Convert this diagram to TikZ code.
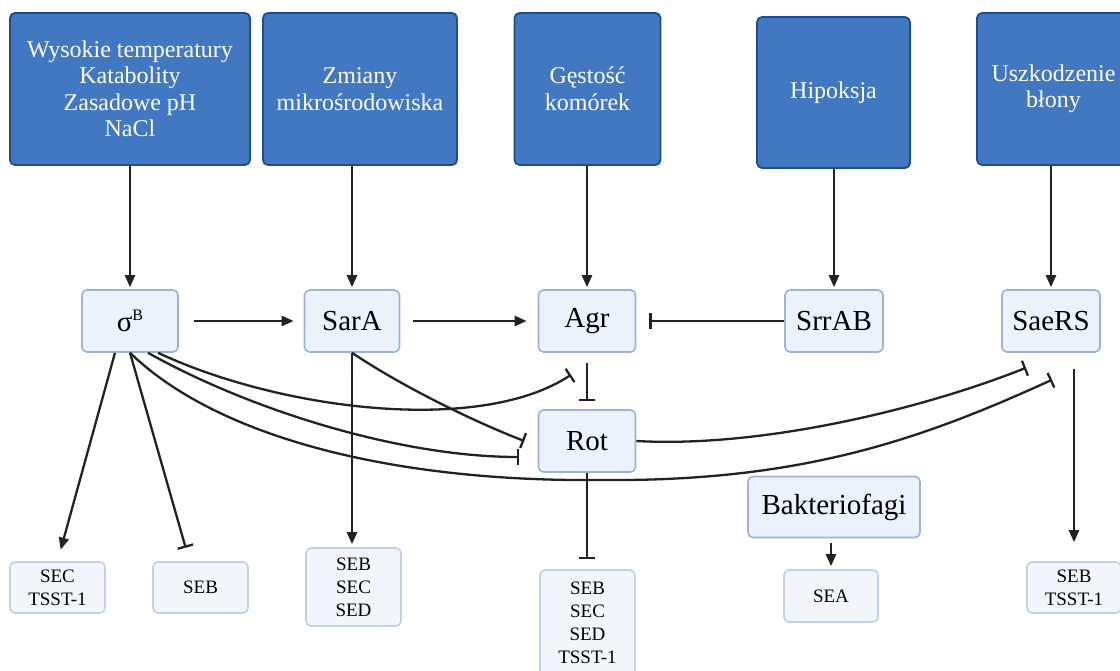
\documentclass[tikz,border=0pt]{standalone}
\usepackage{fontspec}
\setmainfont{Liberation Serif}
\usetikzlibrary{arrows.meta}
\definecolor{topfill}{HTML}{4178C1}
\definecolor{topborder}{HTML}{1E4C8C}
\definecolor{midfill}{HTML}{EBF2FC}
\definecolor{midborder}{HTML}{9BB3DC}
\definecolor{lowfill}{HTML}{F2F6FB}
\definecolor{lowborder}{HTML}{C2D1E5}
\definecolor{ink}{HTML}{222222}
\begin{document}
\begin{tikzpicture}[x=1pt,y=-1pt,
  topbox/.style={draw=topborder, fill=topfill, line width=1.8pt, rounded corners=5pt, text=white, align=center, inner sep=0pt, font=\fontsize{24}{26.5}\selectfont},
  midbox/.style={draw=midborder, fill=midfill, line width=1.6pt, rounded corners=5pt, text=black, inner sep=0pt, font=\fontsize{29}{31}\selectfont},
  lowbox/.style={draw=lowborder, fill=lowfill, line width=1.6pt, rounded corners=5pt, text=black, align=center, inner sep=0pt, font=\fontsize{19}{23}\selectfont},
  arr/.style={draw=ink, line width=2.3pt, -{Triangle[length=12pt,width=10pt]}},
  inh/.style={draw=ink, line width=2.3pt, -{Bar[width=16pt]}}
]
\useasboundingbox (0,0) rectangle (1120,671);
\clip (0,0) rectangle (1120,671);
\fill[white] (0,0) rectangle (1120,671);

% top boxes
\node[topbox, minimum width=240pt, minimum height=152pt] (t1) at (130,89) {Wysokie temperatury\\Katabolity\\Zasadowe pH\\NaCl};
\node[topbox, minimum width=194pt, minimum height=152pt] (t2) at (360,89) {Zmiany\\mikrośrodowiska};
\node[topbox, minimum width=146pt, minimum height=152pt] (t3) at (587.5,89) {Gęstość\\komórek};
\node[topbox, minimum width=153pt, minimum height=151pt] (t4) at (833.5,92.5) {Hipoksja};
\node[topbox, minimum width=153pt, minimum height=152pt] (t5) at (1053.5,89) {Uszkodzenie\\błony};

% middle boxes
\node[midbox, minimum width=96pt, minimum height=62pt] (sig) at (130,321) {σ\raisebox{11pt}{\fontsize{16}{16}\selectfont B}};
\node[midbox, minimum width=95pt, minimum height=62pt] (sara) at (352,321) {SarA};
\node[midbox, minimum width=97pt, minimum height=62pt] (agr) at (587,321) {Agr};
\node[midbox, minimum width=98pt, minimum height=62pt] (srr) at (834,321) {SrrAB};
\node[midbox, minimum width=98pt, minimum height=62pt] (sae) at (1051,321) {SaeRS};
\node[midbox, minimum width=97pt, minimum height=62pt] (rot) at (587,441) {Rot};
\node[midbox, minimum width=172pt, minimum height=61pt] (bak) at (834,507) {Bakteriofagi};

% bottom boxes
\node[lowbox, minimum width=95pt, minimum height=51pt] (b1) at (57.5,587.5) {SEC\\TSST-1};
\node[lowbox, minimum width=95pt, minimum height=51pt] (b2) at (200.5,587.5) {SEB};
\node[lowbox, minimum width=95pt, minimum height=78pt] (b3) at (353.5,587) {SEB\\SEC\\SED};
\node[lowbox, minimum width=95pt, minimum height=105pt] (b4) at (587.5,622.5) {SEB\\SEC\\SED\\TSST-1};
\node[lowbox, minimum width=94pt, minimum height=52pt] (sea) at (831,596) {SEA};
\node[lowbox, minimum width=94pt, minimum height=51pt] (b6) at (1074,587.5) {SEB\\TSST-1};

% top to middle
\draw[arr, shorten >=2pt] (t1.south) -- (sig.north);
\draw[arr, shorten >=2pt] (t2.south -| sara.north) -- (sara.north);
\draw[arr, shorten >=2pt] (t3.south -| agr.north) -- (agr.north);
\draw[arr, shorten >=2pt] (t4.south -| srr.north) -- (srr.north);
\draw[arr, shorten >=2pt] (t5.south -| sae.north) -- (sae.north);

% middle row
\draw[arr, shorten <=15pt, shorten >=10pt] (sig.east) -- (sara.west);
\draw[arr, shorten <=13pt, shorten >=11pt] (sara.east) -- (agr.west);
\draw[inh, shorten >=13pt] (srr.west) -- (agr.east);
\draw[inh, shorten <=10pt, shorten >=8pt] (agr.south) -- (rot.north);

% sigma B connectors
\draw[arr, shorten >=12pt] ([xshift=-15pt]sig.south) -- (b1.north);
\draw[inh, shorten >=14pt] (sig.south) -- ([xshift=-11pt]b2.north);
\draw[inh] ([xshift=28pt]sig.south) .. controls (280,410) and (480,435) .. ([xshift=-16pt,yshift=-22pt]agr.south);
\draw[inh] ([xshift=18pt]sig.south) .. controls (250,410) and (400,457) .. ([xshift=-18.5pt,yshift=-16pt]rot.west);
\draw[inh] (sig.south) .. controls (220,440) and (400,482) .. (600,480)
  .. controls (800,482) and (920,440) .. ([xshift=1pt,yshift=-27pt]sae.south);

% SarA connectors
\draw[arr, shorten >=3pt] (sara.south) -- (sara.south |- b3.north);
\draw[inh] (sara.south) .. controls (400,385) and (470,420) .. ([xshift=-13.5pt]rot.west);

% Rot connectors
\draw[inh, shorten >=10pt] (rot.south) -- (rot.south |- b4.north);
\draw[inh] (rot.east) .. controls (760,448) and (920,410) .. ([xshift=-25pt,yshift=-15pt]sae.south);

% Bakteriofagi and SaeRS
\draw[arr, shorten <=5pt, shorten >=3pt] (sea.north |- bak.south) -- (sea.north);
\draw[arr, shorten <=16pt, shorten >=19pt] (b6.north |- sae.south) -- (b6.north);
\end{tikzpicture}
\end{document}
